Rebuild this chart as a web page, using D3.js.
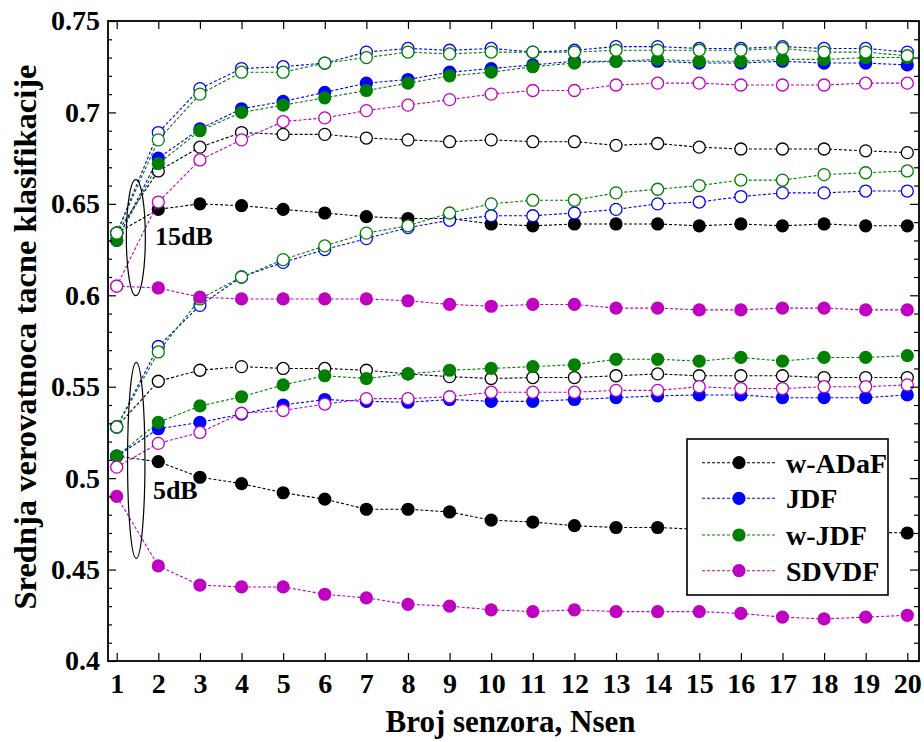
<!DOCTYPE html>
<html>
<head>
<meta charset="utf-8">
<script src="https://cdn.jsdelivr.net/npm/d3@7"></script>
<style>
  html, body { margin: 0; padding: 0; background: #fff; }
  svg { display: block; }
  text { font-family: "Liberation Serif", "Times New Roman", serif; font-weight: bold; fill: #000; }
</style>
</head>
<body>
<svg id="chart" width="924" height="742"></svg>
<script>
// ---------- data ----------
const nsen = [1,2,3,4,5,6,7,8,9,10,11,12,13,14,15,16,17,18,19,20];

// 15 dB
const adaf15Filled  = [0.634,0.647,0.650,0.649,0.647,0.645,0.643,0.642,0.642,0.639,0.638,0.639,0.639,0.639,0.638,0.639,0.638,0.639,0.638,0.638];
const adaf15Open    = [0.634,0.668,0.681,0.689,0.688,0.688,0.686,0.685,0.684,0.685,0.684,0.684,0.682,0.683,0.681,0.680,0.680,0.680,0.679,0.678];
const jdf15Filled   = [0.630,0.675,0.691,0.702,0.706,0.711,0.716,0.718,0.722,0.724,0.726,0.728,0.728,0.728,0.727,0.727,0.728,0.727,0.727,0.726];
const jdf15Open     = [0.634,0.689,0.713,0.724,0.725,0.727,0.733,0.735,0.734,0.735,0.733,0.734,0.736,0.736,0.735,0.735,0.736,0.735,0.735,0.733];
const wjdf15Filled  = [0.630,0.672,0.690,0.700,0.704,0.708,0.712,0.716,0.720,0.722,0.725,0.727,0.728,0.729,0.728,0.728,0.729,0.729,0.730,0.730];
const wjdf15Open    = [0.634,0.685,0.710,0.722,0.722,0.727,0.730,0.733,0.732,0.733,0.733,0.733,0.734,0.734,0.734,0.734,0.735,0.733,0.733,0.731];
const sdvdf15Filled = [0.605,0.604,0.599,0.598,0.598,0.598,0.598,0.597,0.595,0.594,0.595,0.595,0.593,0.593,0.592,0.592,0.593,0.593,0.592,0.592];
const sdvdf15Open   = [0.605,0.651,0.674,0.685,0.695,0.697,0.701,0.704,0.707,0.710,0.712,0.712,0.715,0.716,0.716,0.715,0.715,0.715,0.716,0.716];

// 5 dB
const adaf5Filled  = [0.512,0.509,0.5005,0.497,0.492,0.4885,0.483,0.483,0.4815,0.477,0.476,0.474,0.473,0.473,0.472,0.472,0.471,0.471,0.4705,0.470];
const adaf5Open    = [0.528,0.553,0.559,0.561,0.560,0.560,0.559,0.557,0.5555,0.5545,0.555,0.555,0.556,0.557,0.556,0.556,0.556,0.555,0.555,0.555];
const jdf5Filled   = [0.512,0.527,0.5305,0.535,0.540,0.543,0.542,0.5415,0.543,0.542,0.542,0.543,0.544,0.545,0.5455,0.5455,0.544,0.544,0.544,0.5455];
const jdf5Open     = [0.528,0.572,0.5945,0.610,0.618,0.625,0.631,0.637,0.641,0.6435,0.6435,0.645,0.647,0.650,0.651,0.654,0.656,0.656,0.657,0.657];
const wjdf5Filled  = [0.512,0.5305,0.5395,0.5445,0.551,0.556,0.5545,0.557,0.559,0.560,0.561,0.562,0.565,0.565,0.564,0.566,0.564,0.566,0.566,0.567];
const wjdf5Open    = [0.528,0.569,0.598,0.610,0.6195,0.627,0.634,0.638,0.645,0.650,0.652,0.652,0.656,0.658,0.660,0.663,0.663,0.666,0.667,0.668];
const sdvdf5Filled = [0.490,0.452,0.4415,0.4405,0.4405,0.4365,0.4345,0.431,0.430,0.428,0.427,0.428,0.427,0.427,0.427,0.426,0.424,0.423,0.424,0.425];
const sdvdf5Open   = [0.506,0.519,0.525,0.5355,0.537,0.5405,0.5435,0.5435,0.5445,0.547,0.547,0.547,0.548,0.548,0.550,0.549,0.549,0.550,0.550,0.551];

const methods = ["w-ADaF", "JDF", "w-JDF", "SDVDF"];
const methodColors = ["#000000", "#0000ff", "#008000", "#c000c0"];

const yTickValues = [0.4, 0.45, 0.5, 0.55, 0.6, 0.65, 0.7, 0.75];
const yTickLabels = ["0.4", "0.45", "0.5", "0.55", "0.6", "0.65", "0.7", "0.75"];
const yMinorValues = d3.range(41, 75).map(v => v / 100).filter(v => Math.round(v * 100) % 5 !== 0);

const xLabel = "Broj senzora, Nsen";
const yLabel = "Srednja verovatnoca tacne klasifikacije";
const snrLabels = ["15dB", "5dB"];

// series table built from the named arrays
const seriesTable = [
  { m: 0, filled: true,  values: adaf15Filled }, { m: 0, filled: false, values: adaf15Open },
  { m: 0, filled: true,  values: adaf5Filled },  { m: 0, filled: false, values: adaf5Open },
  { m: 1, filled: true,  values: jdf15Filled },  { m: 1, filled: false, values: jdf15Open },
  { m: 1, filled: true,  values: jdf5Filled },   { m: 1, filled: false, values: jdf5Open },
  { m: 2, filled: true,  values: wjdf15Filled }, { m: 2, filled: false, values: wjdf15Open },
  { m: 2, filled: true,  values: wjdf5Filled },  { m: 2, filled: false, values: wjdf5Open },
  { m: 3, filled: true,  values: sdvdf15Filled },{ m: 3, filled: false, values: sdvdf15Open },
  { m: 3, filled: true,  values: sdvdf5Filled }, { m: 3, filled: false, values: sdvdf5Open }
];

// ---------- layout ----------
const frame = { left: 108, right: 919, top: 21, bottom: 661 };
const x = d3.scaleLinear().domain([1, 20]).range([116.7, 907.3]);
const y = d3.scaleLinear().domain([0.4, 0.75]).range([frame.bottom, frame.top]);

const svg = d3.select("#chart");
const FONT_TICK = 28;

// ---------- series ----------
const line = d3.line().x((d, i) => x(nsen[i])).y(d => y(d));
const plot = svg.append("g");

seriesTable.forEach(s => {
  const col = methodColors[s.m];
  const g = plot.append("g");
  g.append("path")
    .attr("d", line(s.values))
    .attr("fill", "none")
    .attr("stroke", col)
    .attr("stroke-width", 1.1)
    .attr("stroke-dasharray", "3,2");
  g.selectAll("circle").data(s.values).join("circle")
    .attr("cx", (d, i) => x(nsen[i]))
    .attr("cy", d => y(d))
    .attr("r", s.filled ? 6.6 : 6.0)
    .attr("fill", s.filled ? col : "#fff")
    .attr("stroke", col)
    .attr("stroke-width", s.filled ? 0 : 1.3);
});

// ---------- annotations (ellipses + SNR labels) ----------
const ann = svg.append("g");
const ellipses = [
  { xc: 1.46, yc: 0.6315, rx: 9.5, yTop: 0.6632, label: snrLabels[0], lx: 1.92, ly: 0.6275 },
  { xc: 1.47, yc: 0.5097, rx: 8.7, yTop: 0.5633, label: snrLabels[1], lx: 1.87, ly: 0.4885 }
];
ellipses.forEach(e => {
  ann.append("ellipse")
    .attr("cx", x(e.xc)).attr("cy", y(e.yc))
    .attr("rx", e.rx).attr("ry", y(e.yc) - y(e.yTop))
    .attr("fill", "none").attr("stroke", "#000").attr("stroke-width", 1.2);
  ann.append("text")
    .attr("x", x(e.lx)).attr("y", y(e.ly))
    .attr("font-size", 26)
    .text(e.label);
});

// ---------- axes ----------
const axG = svg.append("g");
// bottom
const bottomAxis = axG.append("g").attr("transform", `translate(0,${frame.bottom})`)
  .call(d3.axisBottom(x).tickValues(nsen).tickFormat(d3.format("d")).tickSize(-8).tickPadding(12));
bottomAxis.selectAll("text").attr("font-size", FONT_TICK);
// top
axG.append("g").attr("transform", `translate(0,${frame.top})`)
  .call(d3.axisTop(x).tickValues(nsen).tickSize(-8).tickFormat(""));
// left major
const leftAxis = axG.append("g").attr("transform", `translate(${frame.left},0)`)
  .call(d3.axisLeft(y).tickValues(yTickValues).tickFormat((d, i) => yTickLabels[i]).tickSize(-8).tickPadding(8));
leftAxis.selectAll("text").attr("font-size", FONT_TICK);
// left minor
axG.append("g").attr("transform", `translate(${frame.left},0)`)
  .call(d3.axisLeft(y).tickValues(yMinorValues).tickSize(-4).tickFormat(""));
// right major + minor
axG.append("g").attr("transform", `translate(${frame.right},0)`)
  .call(d3.axisRight(y).tickValues(yTickValues).tickSize(-9).tickFormat(""));
axG.append("g").attr("transform", `translate(${frame.right},0)`)
  .call(d3.axisRight(y).tickValues(yMinorValues).tickSize(-5).tickFormat(""));

axG.selectAll("g").attr("font-family", null);
axG.selectAll(".domain").remove();
axG.selectAll(".tick line").attr("stroke", "#000").attr("stroke-width", 1.2);

// frame
svg.append("rect")
  .attr("x", frame.left).attr("y", frame.top)
  .attr("width", frame.right - frame.left).attr("height", frame.bottom - frame.top)
  .attr("fill", "none").attr("stroke", "#000").attr("stroke-width", 1.8);

// axis titles
svg.append("text")
  .attr("x", (frame.left + frame.right) / 2 - 3).attr("y", 732)
  .attr("text-anchor", "middle").attr("font-size", 31)
  .text(xLabel);
svg.append("text")
  .attr("transform", `translate(36,${337}) rotate(-90)`)
  .attr("text-anchor", "middle").attr("font-size", 32.5)
  .text(yLabel);

// ---------- legend ----------
const leg = svg.append("g");
const lb = { x: 687, y: 439, w: 201, h: 156 };
leg.append("rect").attr("x", lb.x).attr("y", lb.y).attr("width", lb.w).attr("height", lb.h)
  .attr("fill", "#fff").attr("stroke", "#000").attr("stroke-width", 1.6);
const rowY = [462.7, 498.3, 535, 570.7];
methods.forEach((name, i) => {
  const ry = rowY[i];
  leg.append("line").attr("x1", lb.x + 15).attr("x2", lb.x + 90).attr("y1", ry).attr("y2", ry)
    .attr("stroke", methodColors[i]).attr("stroke-width", 1.1).attr("stroke-dasharray", "3,2");
  leg.append("circle").attr("cx", lb.x + 52).attr("cy", ry).attr("r", 6.6).attr("fill", methodColors[i]);
  leg.append("text").attr("x", lb.x + 99).attr("y", ry + 10).attr("font-size", 28).text(name);
});
</script>
</body>
</html>
